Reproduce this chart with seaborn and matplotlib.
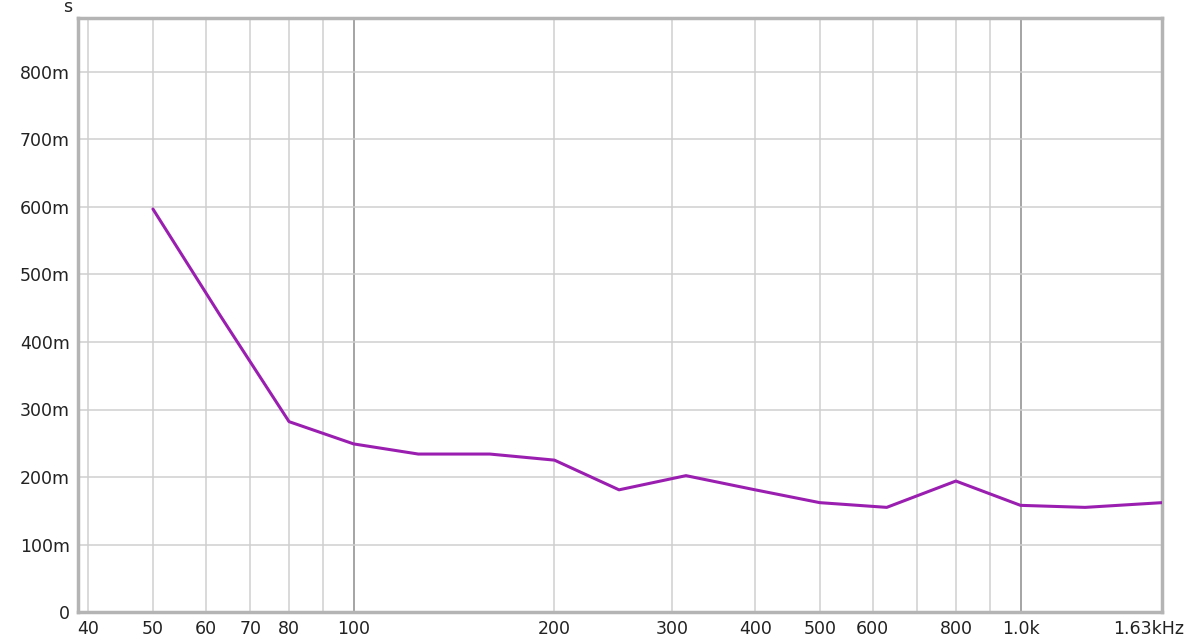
import matplotlib
matplotlib.use("Agg")
import matplotlib.pyplot as plt
import matplotlib.transforms as mtransforms
from matplotlib.ticker import FixedLocator, FixedFormatter, NullFormatter
import seaborn as sns
import pandas as pd

# Data (1/3-octave bands, decay time in seconds)
freqs = [50, 63, 80, 100, 125, 160, 200, 250, 315, 400, 500, 630, 800, 1000, 1250, 1630]
times = [0.597, 0.440, 0.282, 0.249, 0.234, 0.234, 0.225, 0.181, 0.202, 0.181,
         0.162, 0.155, 0.194, 0.158, 0.155, 0.162]

xtick_vals = [40, 50, 60, 70, 80, 100, 200, 300, 400, 500, 600, 800, 1000, 1630]
xtick_labels = ["40", "50", "60", "70", "80", "100", "200", "300", "400", "500",
                "600", "800", "1.0k", "1.63kHz"]
xgrid_minor = [90, 700, 900]
ytick_vals = [0, 0.1, 0.2, 0.3, 0.4, 0.5, 0.6, 0.7, 0.8]
ytick_labels = ["0", "100m", "200m", "300m", "400m", "500m", "600m", "700m", "800m"]

sns.set_style("white")
plt.rcParams['font.family'] = ['DejaVu Sans']

df = pd.DataFrame({"freq": freqs, "time": times})

fig = plt.figure(figsize=(12, 6.42), dpi=100)
ax = fig.add_axes([78 / 1200, 1 - 612 / 642, (1162 - 78) / 1200, (612 - 18) / 642])

ax.set_xscale("log")
ax.set_xlim(38.6, 1630)
ax.set_ylim(0, 0.88)

# grid lines
light = "#cfcfcf"
dark = "#8c8c8c"
for v in [40, 50, 60, 70, 80, 90, 200, 300, 400, 500, 600, 700, 800, 900]:
    ax.axvline(v, color=light, lw=1.1, zorder=0)
for v in [100, 1000]:
    ax.axvline(v, color=dark, lw=1.1, zorder=0)
for v in ytick_vals[1:]:
    ax.axhline(v, color=light, lw=1.1, zorder=0)

sns.lineplot(data=df, x="freq", y="time", ax=ax, color="#9a1fb0", lw=2.2,
             legend=False, zorder=3)

ax.xaxis.set_major_locator(FixedLocator(xtick_vals))
ax.xaxis.set_major_formatter(FixedFormatter(xtick_labels))
ax.xaxis.set_minor_locator(FixedLocator([]))
ax.xaxis.set_minor_formatter(NullFormatter())
ax.yaxis.set_major_locator(FixedLocator(ytick_vals))
ax.yaxis.set_major_formatter(FixedFormatter(ytick_labels))

ax.tick_params(axis="both", length=0, labelsize=12.5, labelcolor="#222222")
ax.tick_params(axis="x", pad=6)
ax.tick_params(axis="y", pad=6)
ax.set_xlabel("")
ax.set_ylabel("")

# shift last x label left
lbls = ax.get_xticklabels()
offset = mtransforms.ScaledTranslation(-0.13, 0, fig.dpi_scale_trans)
lbls[-1].set_transform(lbls[-1].get_transform() + offset)

for s in ax.spines.values():
    s.set_visible(True)
    s.set_color("#b4b4b4")
    s.set_linewidth(2.5)

fig.text(67.5 / 1200, 1 - 7 / 642, "s", fontsize=12.5, color="#222222",
         ha="center", va="center")

fig.savefig("out.png", dpi=100, facecolor="white")
